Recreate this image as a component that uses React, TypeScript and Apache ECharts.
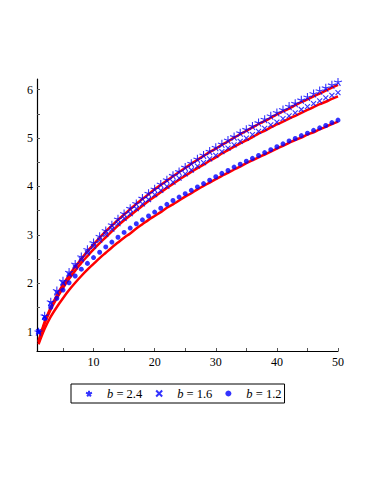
import React, { useEffect, useRef } from "react";
import * as echarts from "echarts";

const xValues = [
  1, 2, 3, 4, 5, 6, 7, 8, 9, 10, 11, 12, 13, 14, 15, 16, 17, 18, 19, 20, 21, 22, 23, 24, 25,
  26, 27, 28, 29, 30, 31, 32, 33, 34, 35, 36, 37, 38, 39, 40, 41, 42, 43, 44, 45, 46, 47, 48, 49, 50,
];

// b = 2.4 (stars)
const starValues = [
  1.0, 1.33, 1.62, 1.85, 2.05, 2.23, 2.4, 2.55, 2.7, 2.84, 2.97, 3.09, 3.21, 3.33, 3.44, 3.55, 3.65,
  3.76, 3.86, 3.95, 4.05, 4.14, 4.23, 4.31, 4.4, 4.48, 4.57, 4.65, 4.73, 4.81, 4.88, 4.96, 5.03, 5.11,
  5.18, 5.25, 5.32, 5.39, 5.46, 5.53, 5.59, 5.66, 5.72, 5.79, 5.85, 5.92, 5.98, 6.04, 6.1, 6.16,
];

// b = 1.6 (crosses)
const crossValues = [
  1.0, 1.3, 1.58, 1.8, 2.0, 2.18, 2.34, 2.49, 2.63, 2.76, 2.89, 3.01, 3.12, 3.23, 3.34, 3.44, 3.54,
  3.64, 3.73, 3.83, 3.92, 4.0, 4.09, 4.17, 4.26, 4.34, 4.42, 4.49, 4.57, 4.64, 4.72, 4.79, 4.86, 4.93,
  5.0, 5.07, 5.14, 5.2, 5.27, 5.33, 5.4, 5.46, 5.52, 5.59, 5.65, 5.71, 5.77, 5.83, 5.88, 5.94,
];

// b = 1.2 (dots)
const dotValues = [
  1.0, 1.27, 1.5, 1.69, 1.86, 2.01, 2.15, 2.29, 2.41, 2.53, 2.64, 2.75, 2.85, 2.95, 3.05, 3.14, 3.23,
  3.31, 3.39, 3.47, 3.55, 3.63, 3.71, 3.78, 3.85, 3.92, 3.99, 4.06, 4.13, 4.2, 4.27, 4.33, 4.4, 4.46,
  4.52, 4.58, 4.64, 4.7, 4.76, 4.82, 4.88, 4.94, 4.99, 5.05, 5.1, 5.16, 5.21, 5.26, 5.32, 5.37,
];

// red approximation curves
const redTop = [
  0.8, 1.2, 1.5, 1.75, 1.97, 2.16, 2.34, 2.5, 2.66, 2.8, 2.94, 3.07, 3.19, 3.31, 3.42, 3.53, 3.64,
  3.74, 3.84, 3.94, 4.03, 4.12, 4.21, 4.3, 4.38, 4.47, 4.55, 4.63, 4.71, 4.78, 4.86, 4.93, 5.01, 5.08,
  5.15, 5.22, 5.29, 5.35, 5.42, 5.49, 5.55, 5.61, 5.68, 5.74, 5.8, 5.86, 5.92, 5.98, 6.04, 6.1,
];
const redMid = [
  0.78, 1.17, 1.46, 1.69, 1.9, 2.09, 2.26, 2.42, 2.56, 2.7, 2.83, 2.95, 3.07, 3.19, 3.3, 3.4, 3.5,
  3.6, 3.7, 3.79, 3.88, 3.97, 4.05, 4.14, 4.22, 4.3, 4.38, 4.45, 4.53, 4.6, 4.68, 4.75, 4.82, 4.89,
  4.95, 5.02, 5.09, 5.15, 5.22, 5.28, 5.34, 5.4, 5.46, 5.52, 5.58, 5.64, 5.7, 5.75, 5.81, 5.86,
];
const redLow = [
  0.74, 1.06, 1.31, 1.51, 1.69, 1.86, 2.01, 2.15, 2.28, 2.4, 2.52, 2.63, 2.74, 2.84, 2.94, 3.03, 3.13,
  3.22, 3.31, 3.39, 3.47, 3.56, 3.63, 3.71, 3.79, 3.86, 3.94, 4.01, 4.08, 4.15, 4.22, 4.28, 4.35, 4.41,
  4.48, 4.54, 4.6, 4.66, 4.72, 4.78, 4.84, 4.9, 4.96, 5.01, 5.07, 5.12, 5.18, 5.23, 5.29, 5.34,
];

const seriesNames = ["b = 2.4", "b = 1.6", "b = 1.2"];
const xLabelValues = [10, 20, 30, 40, 50];
const xTickValues = [5, 10, 15, 20, 25, 30, 35, 40, 45, 50];
const yLabelValues = [1, 2, 3, 4, 5, 6];
const yTickValues = [1, 1.5, 2, 2.5, 3, 3.5, 4, 4.5, 5, 5.5, 6];

const BLUE = "#0000ff";
const RED = "#ff0000";
const FONT = "'Liberation Serif', 'Times New Roman', serif";

const pairs = (ys: number[]) => xValues.map((x, i) => [x, ys[i]]);

const STAR_PATH =
  "path://M5,5L5,0M5,5L9.76,3.45M5,5L7.94,9.05M5,5L2.06,9.05M5,5L0.24,3.45";
const CROSS_PATH = "path://M0,0L10,10M10,0L0,10";

export default function App() {
  const ref = useRef<HTMLDivElement>(null);

  useEffect(() => {
    document.body.style.margin = "0";
    if (!ref.current) return;
    const chart = echarts.init(ref.current, null, { renderer: "svg" });

    const redLine = (ys: number[], id: string) => ({
      id,
      type: "line",
      data: pairs(ys),
      showSymbol: false,
      smooth: 0.3,
      lineStyle: { color: RED, width: 2.5 },
      itemStyle: { color: RED },
      z: 2,
      silent: true,
    });

    chart.setOption({
      animation: false,
      backgroundColor: "#ffffff",
      textStyle: { fontFamily: FONT },
      grid: {
        left: 37,
        right: 33,
        top: 79,
        bottom: 129,
        outerBoundsMode: "none",
      },
      xAxis: {
        type: "value",
        min: 0.75,
        max: 50,
        axisLine: { show: true, onZero: false, lineStyle: { color: "#000", width: 1.2 } },
        axisTick: {
          show: true,
          inside: true,
          length: 3,
          customValues: xTickValues,
          lineStyle: { color: "#555" },
        },
        axisLabel: {
          customValues: xLabelValues,
          color: "#000",
          fontFamily: FONT,
          fontSize: 12,
          margin: 5,
        },
        splitLine: { show: false },
      },
      yAxis: {
        type: "value",
        min: 0.6,
        max: 6.22,
        axisLine: { show: true, onZero: false, lineStyle: { color: "#000", width: 1.2 } },
        axisTick: {
          show: true,
          inside: true,
          length: 3,
          customValues: yTickValues,
          lineStyle: { color: "#555" },
        },
        axisLabel: {
          customValues: yLabelValues,
          color: "#000",
          fontFamily: FONT,
          fontSize: 12,
          margin: 4,
        },
        splitLine: { show: false },
      },
      legend: {
        data: seriesNames,
        left: 71,
        top: 384,
        orient: "horizontal",
        itemWidth: 6,
        itemHeight: 6,
        itemGap: 13,
        padding: [3, 3, 3, 14],
        borderColor: "#000",
        borderWidth: 1,
        formatter: (name: string) => "{i|b}{t|" + name.slice(1) + "}",
        textStyle: {
          color: "#000",
          fontFamily: FONT,
          fontSize: 12.5,
          lineHeight: 12,
          rich: {
            i: {
              fontFamily: FONT,
              fontStyle: "italic",
              fontSize: 12.5,
              color: "#000",
              padding: [0, 0, 0, 10],
            },
            t: { fontFamily: FONT, fontSize: 12.5, color: "#000" },
          },
        },
      },
      series: [
        redLine(redTop, "redTop"),
        redLine(redMid, "redMid"),
        redLine(redLow, "redLow"),
        {
          name: seriesNames[0],
          type: "scatter",
          data: pairs(starValues),
          symbol: STAR_PATH,
          symbolSize: 8,
          itemStyle: { color: "transparent", borderColor: BLUE, borderWidth: 1.1 },
          z: 3,
        },
        {
          name: seriesNames[1],
          type: "scatter",
          data: pairs(crossValues),
          symbol: CROSS_PATH,
          symbolSize: 5,
          itemStyle: { color: "transparent", borderColor: BLUE, borderWidth: 1.1 },
          z: 3,
        },
        {
          name: seriesNames[2],
          type: "scatter",
          data: pairs(dotValues),
          symbol: "circle",
          symbolSize: 5,
          itemStyle: { color: BLUE },
          z: 3,
        },
      ],
    });

    return () => chart.dispose();
  }, []);

  return <div ref={ref} style={{ width: 371, height: 480 }} />;
}
